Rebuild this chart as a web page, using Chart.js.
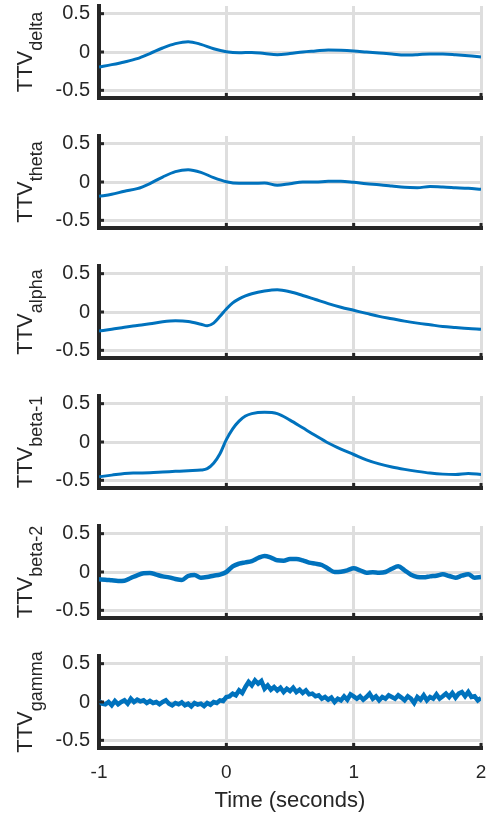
<!DOCTYPE html>
<html>
<head>
<meta charset="utf-8">
<script src="https://cdn.jsdelivr.net/npm/chart.js@4.4.1/dist/chart.umd.min.js"></script>
<style>
  body { margin: 0; background: #fff; }
  #wrap { position: relative; width: 490px; height: 819px; }
  canvas { position: absolute; left: 0; }
</style>
</head>
<body>
<div id="wrap"></div>
<script>
// tick values / labels
const xTickValues = [-1, 0, 1, 2];
const xTickLabels = ['-1', '0', '1', '2'];
const yTickValues = [-0.5, 0, 0.5];
const yTickLabels = ['-0.5', '0', '0.5'];
const bandNames = ['delta', 'theta', 'alpha', 'beta-1', 'beta-2', 'gamma'];

// sample times (seconds)
const timeStep10 = Array.from({ length: 31 }, (_, i) => +(-1 + i * 0.1).toFixed(3));
const timeStep05 = Array.from({ length: 61 }, (_, i) => +(-1 + i * 0.05).toFixed(3));
const timeStep025 = Array.from({ length: 121 }, (_, i) => +(-1 + i * 0.025).toFixed(3));
const timeOnset = [-1, -0.9, -0.8, -0.7, -0.6, -0.5, -0.4, -0.3, -0.2, -0.15, -0.1, -0.05,
  0, 0.05, 0.1, 0.15, 0.2, 0.3, 0.4, 0.5, 0.6, 0.7, 0.8, 0.9, 1, 1.1, 1.2, 1.3, 1.4, 1.5,
  1.6, 1.7, 1.8, 1.9, 2];

// series values
const ttvDelta = [-0.196, -0.165, -0.13, -0.087, -0.02, 0.052, 0.109, 0.135, 0.10, 0.043,
  0.004, -0.01, -0.005, -0.02, -0.035, -0.02, 0, 0.013, 0.026, 0.022,
  0.013, 0, -0.013, -0.026, -0.04, -0.035, -0.026, -0.026, -0.035, -0.048, -0.065];

const ttvTheta = [-0.187, -0.16, -0.12, -0.087, -0.02, 0.065, 0.135, 0.16, 0.126, 0.057,
  0.004, -0.017, -0.017, -0.013, -0.043, -0.022, 0, 0, 0.009, 0.009,
  -0.004, -0.022, -0.035, -0.052, -0.07, -0.074, -0.06, -0.065, -0.074, -0.083, -0.096];

const ttvAlpha = [-0.247, -0.225, -0.198, -0.176, -0.154, -0.128, -0.115, -0.123, -0.159, -0.18, -0.145, -0.057,
  0.04, 0.12, 0.172, 0.21, 0.238, 0.273, 0.29, 0.264, 0.216, 0.163, 0.11, 0.062, 0.022, -0.018, -0.057, -0.088, -0.119, -0.145,
  -0.167, -0.189, -0.203, -0.216, -0.225];

const ttvBeta1 = [-0.454, -0.432, -0.41, -0.405, -0.401, -0.392, -0.383, -0.374, -0.366, -0.348, -0.278, -0.154,
  0.031, 0.172, 0.273, 0.339, 0.37, 0.388, 0.37, 0.286, 0.185, 0.084, -0.013, -0.093, -0.163, -0.233, -0.286, -0.326, -0.357, -0.383,
  -0.405, -0.419, -0.423, -0.41, -0.423];

const ttvBeta2 = [-0.096, -0.1, -0.109, -0.117, -0.113, -0.078, -0.043, -0.017, -0.013, -0.035,
  -0.057, -0.07, -0.091, -0.104, -0.052, -0.039, -0.074, -0.065, -0.048, -0.035,
  0, 0.074, 0.109, 0.126, 0.143, 0.183, 0.209, 0.187, 0.152, 0.148,
  0.17, 0.17, 0.152, 0.122, 0.109, 0.091, 0.043, 0, 0.004, 0.022,
  0.048, 0.022, -0.009, -0.004, -0.009, 0, 0.043, 0.074, 0.022, -0.035,
  -0.065, -0.07, -0.057, -0.048, -0.03, -0.052, -0.074, -0.048, -0.03, -0.074,
  -0.065];

const ttvGamma = [0.013, -0.022, -0.03, 0, -0.043, 0.013, -0.03, 0, 0.022, -0.022,
  0.043, 0, 0.03, 0.009, 0.022, -0.013, 0.013, -0.013, 0, -0.03,
  0, 0.022, -0.022, -0.043, -0.013, -0.03, -0.004, -0.043, -0.022, -0.057,
  -0.013, -0.035, -0.022, -0.052, -0.013, -0.035, 0, -0.013, 0.022, 0.013,
  0.065, 0.074, 0.109, 0.087, 0.152, 0.117, 0.196, 0.261, 0.217, 0.283,
  0.239, 0.274, 0.174, 0.217, 0.161, 0.196, 0.152, 0.187, 0.13, 0.174,
  0.143, 0.187, 0.13, 0.161, 0.117, 0.152, 0.1, 0.109, 0.074, 0.087,
  0.043, 0.065, 0.03, 0.057, 0, 0.043, 0.022, 0.074, 0.03, 0.1,
  0.074, 0.043, 0.074, 0.03, 0.065, 0.109, 0.043, 0.074, 0.022, 0.065,
  0.043, 0.087, 0.065, 0.043, 0.087, 0.057, 0.022, 0.074, 0.043, -0.013,
  0.065, 0.03, 0.087, 0.022, 0.065, 0.043, 0.1, 0.043, 0.074, 0.109,
  0.065, 0.117, 0.057, 0.109, 0.13, 0.074, 0.13, 0.065, 0.074, 0.022,
  0.052];

const panels = [
  { times: timeStep10, values: ttvDelta, width: 3, tension: 0.4 },
  { times: timeStep10, values: ttvTheta, width: 3, tension: 0.4 },
  { times: timeOnset, values: ttvAlpha, width: 3, tension: 0.4 },
  { times: timeOnset, values: ttvBeta1, width: 3, tension: 0.4 },
  { times: timeStep05, values: ttvBeta2, width: 4.5, tension: 0.3 },
  { times: timeStep025, values: ttvGamma, width: 4.5, tension: 0 },
];

const FONT = '"Liberation Sans", Arial, Helvetica, sans-serif';
const TEXT = '#262626';
const AXIS = '#262626';
const GRID = '#dedede';
const BLUE = '#0072BD';

// y label: TTV with subscript band name, rotated
const yLabelPlugin = {
  id: 'yLabel',
  afterDraw(chart, args, o) {
    const { ctx, chartArea } = chart;
    const cy = (chartArea.top + chartArea.bottom) / 2;
    const mainFont = '22px ' + FONT;
    const subFont = '18px ' + FONT;
    ctx.save();
    ctx.fillStyle = TEXT;
    ctx.translate(o.x, cy);
    ctx.rotate(-Math.PI / 2);
    ctx.font = mainFont;
    const w1 = ctx.measureText('TTV').width;
    ctx.font = subFont;
    const w2 = ctx.measureText(o.sub).width;
    const x0 = -(w1 + w2) / 2;
    ctx.textBaseline = 'alphabetic';
    ctx.font = mainFont;
    ctx.fillText('TTV', x0, 0);
    ctx.font = subFont;
    ctx.fillText(o.sub, x0 + w1, o.shift);
    ctx.restore();
  }
};

// inward tick marks like matlab
const innerTicksPlugin = {
  id: 'innerTicks',
  afterDatasetsDraw(chart) {
    const { ctx, chartArea, scales } = chart;
    ctx.save();
    ctx.fillStyle = AXIS;
    yTickValues.forEach(v => {
      const py = scales.y.getPixelForValue(v);
      ctx.fillRect(chartArea.left, py - 1.5, 5, 3);
    });
    xTickValues.forEach(v => {
      const px = scales.x.getPixelForValue(v);
      ctx.fillRect(px - 1.5, chartArea.bottom - 5, 3, 5);
    });
    ctx.restore();
  }
};

const wrap = document.getElementById('wrap');

panels.forEach((p, i) => {
  const last = i === panels.length - 1;
  const h = last ? 169 : 130;
  const canvas = document.createElement('canvas');
  canvas.width = 490;
  canvas.height = h;
  canvas.style.top = (i * 130) + 'px';
  wrap.appendChild(canvas);

  new Chart(canvas.getContext('2d'), {
    type: 'line',
    data: {
      datasets: [{
        data: p.times.map((t, k) => ({ x: t, y: p.values[k] })),
        borderColor: BLUE,
        borderWidth: p.width,
        pointRadius: 0,
        tension: p.tension,
        cubicInterpolationMode: p.tension > 0 ? 'monotone' : 'default',
        fill: false,
      }],
    },
    options: {
      responsive: false,
      animation: false,
      layout: { padding: { top: 6, right: 9, left: 0, bottom: 0 } },
      plugins: {
        legend: { display: false },
        tooltip: { enabled: false },
        yLabel: { sub: bandNames[i], x: 32, shift: 10 },
      },
      scales: {
        x: {
          type: 'linear',
          min: -1,
          max: 2,
          afterBuildTicks: s => { s.ticks = xTickValues.map(v => ({ value: v })); },
          afterFit: s => {
            s.height = h - 98;
            s.paddingLeft = 0;
            s.paddingRight = 0;
          },
          ticks: {
            display: last,
            color: TEXT,
            font: { family: FONT, size: 19 },
            padding: 13,
            maxRotation: 0,
            callback: (v, idx) => xTickLabels[idx],
          },
          grid: { color: GRID, lineWidth: 3, drawTicks: false },
          border: { display: true, color: AXIS, width: 4 },
          title: {
            display: last,
            text: 'Time (seconds)',
            color: TEXT,
            font: { family: FONT, size: 22 },
            padding: { top: 0, bottom: 5 },
          },
        },
        y: {
          min: -0.6,
          max: 0.6,
          afterBuildTicks: s => { s.ticks = yTickValues.map(v => ({ value: v })); },
          afterFit: s => {
            s.width = 99;
            s.paddingTop = 0;
            s.paddingBottom = 0;
          },
          ticks: {
            color: TEXT,
            font: { family: FONT, size: 20 },
            padding: 9,
            callback: (v, idx) => yTickLabels[idx],
          },
          grid: { color: GRID, lineWidth: 3, drawTicks: false },
          border: { display: true, color: AXIS, width: 4 },
        },
      },
    },
    plugins: [yLabelPlugin, innerTicksPlugin],
  });
});
</script>
</body>
</html>
